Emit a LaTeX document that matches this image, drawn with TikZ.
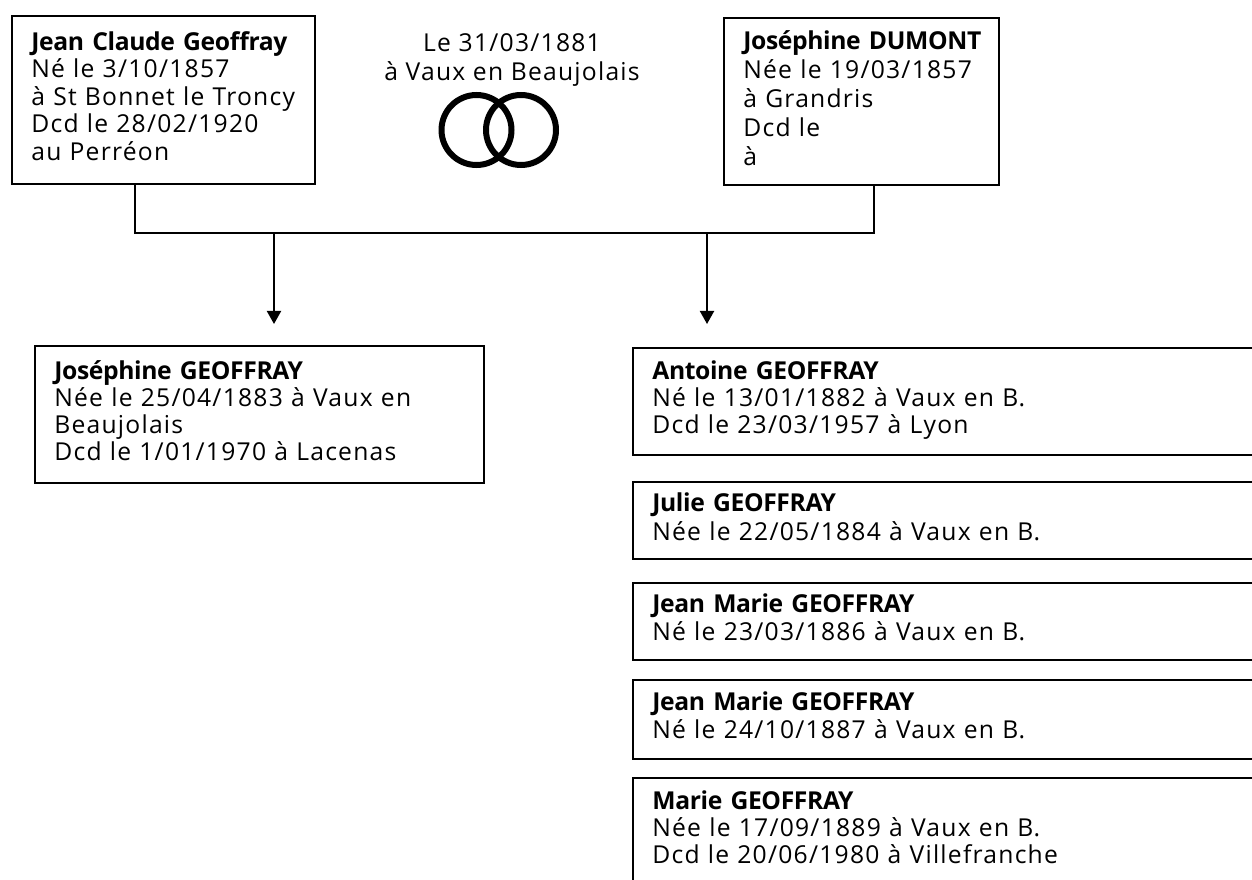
\documentclass[tikz,border=0pt]{standalone}
\usepackage{fontspec}
\setmainfont{Open Sans}[LetterSpace=5, BoldFeatures={LetterSpace=-1.5}]
\usetikzlibrary{arrows.meta}
\newcommand\cardtext[1]{\noindent\begin{tabular}{@{}l@{}}#1\end{tabular}}
\begin{document}
\begin{tikzpicture}[x=0.75pt,y=-0.75pt,
  card/.style 2 args={draw, line width=1.5pt, anchor=north west, outer sep=0pt,
    inner ysep=0pt, inner xsep=14.5pt, align=left, text width=#1,
    minimum height=#2},
  pitch/.style={font=\fontsize{18.5pt}{#1}\selectfont},
  conn/.style={line width=1.5pt},
  arr/.style={line width=1.5pt, -{Triangle[width=10.5pt,length=9.75pt]}},
  ring/.style={circle, draw, line width=4.5pt, inner sep=0pt, minimum size=52.5pt}
]
\useasboundingbox (0,0) rectangle (1252,880);
\fill[white] (0,0) rectangle (1252,880);
\clip (0,0) rectangle (1252,880);

% parents
\node[card={198pt}{126pt}, pitch=20.625pt] (jc) at (12,16)
  {\cardtext{\textbf{Jean Claude Geoffray}\\ Né le 3/10/1857\\ à St Bonnet le Troncy\\ Dcd le 28/02/1920\\ au Perréon}};
\node[card={177.25pt}{125.25pt}, pitch=21.75pt] (jd) at (724,18)
  {\cardtext{\textbf{Joséphine DUMONT}\\ Née le 19/03/1857\\ à Grandris\\ Dcd le\\ à}};

% marriage
\node[anchor=north, inner sep=0pt, font=\fontsize{18.5pt}{21.375pt}\selectfont] (mar) at (512,31.75)
  {\begin{tabular}{@{}c@{}}Le 31/03/1881\\ à Vaux en Beaujolais\end{tabular}};
\node[ring] (ringL) at (476.5,130) {};
\node[ring] (ringR) at (521,130) {};

% children
\node[card={308pt}{102.75pt}, pitch=20pt] (jg) at (35,346)
  {\cardtext{\textbf{Joséphine GEOFFRAY}\\ Née le 25/04/1883 à Vaux en\\ Beaujolais\\ Dcd le 1/01/1970 à Lacenas}};
\node[card={466pt}{80.25pt}, pitch=20.25pt] (an) at (633,348)
  {\cardtext{\textbf{Antoine GEOFFRAY}\\ Né le 13/01/1882 à Vaux en B.\\ Dcd le 23/03/1957 à Lyon}};
\node[card={466pt}{58.1pt}, pitch=21.75pt] (ju) at (633,481.5)
  {\cardtext{\textbf{Julie GEOFFRAY}\\ Née le 22/05/1884 à Vaux en B.}};
\node[card={466pt}{58.1pt}, pitch=21pt] (jm1) at (633,582.5)
  {\cardtext{\textbf{Jean Marie GEOFFRAY}\\ Né le 23/03/1886 à Vaux en B.}};
\node[card={466pt}{58.9pt}, pitch=21pt] (jm2) at (633,680)
  {\cardtext{\textbf{Jean Marie GEOFFRAY}\\ Né le 24/10/1887 à Vaux en B.}};
\node[card={466pt}{80.25pt}, pitch=20.25pt] (ma) at (633,778)
  {\cardtext{\textbf{Marie GEOFFRAY}\\ Née le 17/09/1889 à Vaux en B.\\ Dcd le 20/06/1980 à Villefranche}};

% connectors
\coordinate (jL) at (135,233);
\coordinate (jR) at (874,233);
\draw[conn] (jc.south -| jL) -- (jL) -- (jR) -- (jd.south -| jR);
\coordinate (s1) at (274,233);
\coordinate (t1) at (274,324);
\coordinate (s2) at (707,233);
\coordinate (t2) at (707,324);
\draw[arr] (s1) -- (t1);
\draw[arr] (s2) -- (t2);
\end{tikzpicture}
\end{document}
